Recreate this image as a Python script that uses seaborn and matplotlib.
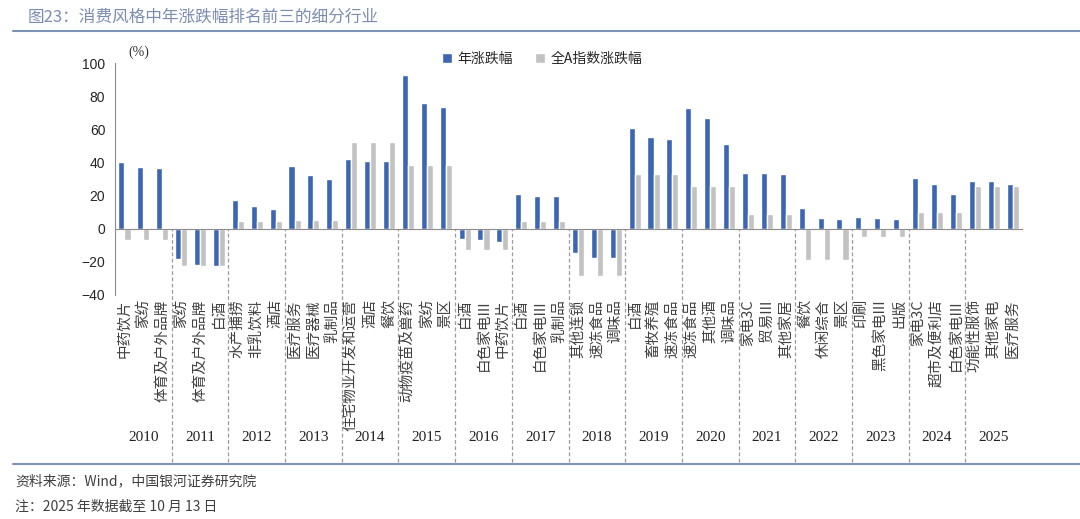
import numpy as np
import pandas as pd
import matplotlib.pyplot as plt
import seaborn as sns
from matplotlib.lines import Line2D

# data
years = ['2010', '2011', '2012', '2013', '2014', '2015', '2016', '2017',
         '2018', '2019', '2020', '2021', '2022', '2023', '2024', '2025']

industries = [
    '中药饮片', '家纺', '体育及户外品牌',
    '家纺', '体育及户外品牌', '白酒',
    '水产捕捞', '非乳饮料', '酒店',
    '医疗服务', '医疗器械', '乳制品',
    '住宅物业开发和运营', '酒店', '餐饮',
    '动物疫苗及兽药', '家纺', '景区',
    '白酒', '白色家电III', '中药饮片',
    '白酒', '白色家电III', '乳制品',
    '其他连锁', '速冻食品', '调味品',
    '白酒', '畜牧养殖', '速冻食品',
    '速冻食品', '其他酒', '调味品',
    '家电3C', '贸易III', '其他家居',
    '餐饮', '休闲综合', '景区',
    '印刷', '黑色家电III', '出版',
    '家电3C', '超市及便利店', '白色家电III',
    '功能性服饰', '其他家电', '医疗服务',
]

year_chg = [
    40.1, 37.3, 36.9,
    -18.3, -21.7, -22.6,
    17.5, 13.7, 11.7,
    38.0, 32.6, 30.0,
    42.3, 41.1, 40.7,
    92.8, 75.9, 73.5,
    -6.0, -6.8, -8.1,
    21.1, 19.9, 19.7,
    -14.5, -17.5, -17.5,
    60.8, 55.6, 54.4,
    72.7, 67.1, 51.2,
    33.6, 33.4, 33.0,
    12.7, 6.6, 5.6,
    7.3, 6.4, 6.0,
    30.8, 26.8, 21.1,
    28.8, 28.6, 27.2,
]

# 全A指数 change for each year (same for the three industries of that year)
alla_chg = [-7.0, -22.6, 4.4, 5.2, 52.4, 38.3, -12.9, 4.8,
            -28.4, 32.8, 25.6, 9.1, -18.9, -5.2, 9.9, 25.6]

series_names = ['年涨跌幅', '全A指数涨跌幅']

blue = '#3c66b3'
gray = '#c2c2c2'
axis_gray = '#8c8c8c'

n = len(industries)
rows = []
for i in range(n):
    rows.append({'idx': i, 'series': series_names[0], 'value': year_chg[i]})
    rows.append({'idx': i, 'series': series_names[1], 'value': alla_chg[i // 3]})
df = pd.DataFrame(rows)

sns.set_style('white')
plt.rcParams['font.family'] = ['Noto Sans CJK SC', 'DejaVu Sans']

fig = plt.figure(figsize=(10.8, 5.19), dpi=100)
ax = fig.add_axes([0.1065, 0.4316, 0.8398, 0.4470])

sns.barplot(data=df, x='idx', y='value', hue='series', hue_order=series_names,
            palette=[blue, gray], width=0.64, saturation=1, ax=ax)

ax.set_xlim(-0.5, n - 0.5)
ax.set_ylim(-40, 100)
ax.set_xlabel('')
ax.set_ylabel('')

for s in ['top', 'right']:
    ax.spines[s].set_visible(False)
ax.spines['left'].set_color(axis_gray)
ax.spines['bottom'].set_color(axis_gray)
ax.spines['bottom'].set_position(('data', 0))

# small ticks on the zero line at category boundaries
ax.set_xticks(np.arange(-0.5, n, 1))
ax.set_xticklabels([])
ax.tick_params(axis='x', length=4, direction='out', color=axis_gray, width=1)

ax.set_yticks(range(-40, 101, 20))
ax.tick_params(axis='y', length=4, direction='out', color=axis_gray, labelsize=10, pad=3)
for lab in ax.get_yticklabels():
    lab.set_fontfamily('Liberation Sans')

# category labels below the plot area
sec = ax.secondary_xaxis(0)
sec.set_xticks(range(n), industries)
sec.tick_params(length=0, pad=3, labelsize=10.5, labelrotation=90, labelcolor='#404040')
sec.spines['bottom'].set_visible(False)

# dashed year separators and year labels
for k in range(1, len(years)):
    ax.vlines(3 * k - 0.5, -141, 0, colors='#9a9a9a', linestyles=(0, (3, 2)),
              linewidth=0.9, clip_on=False)
for k, y in enumerate(years):
    ax.text(3 * k + 1, -126, y, ha='center', va='center', fontsize=11,
            family='Liberation Serif', color='#222222', clip_on=False)

fig.text(0.1185, 0.90, '(%)', fontsize=10, family='Liberation Serif',
         ha='left', va='center', color='#333333')

handles, labels = ax.get_legend_handles_labels()
ax.legend(handles, labels, loc='center', bbox_to_anchor=(0.502, 0.886),
          bbox_transform=fig.transFigure, ncol=2, frameon=False, fontsize=10,
          handlelength=0.7, handleheight=0.7, handletextpad=0.4, columnspacing=1.6)

# title and footer
fig.text(0.026, 0.967, '图23：消费风格中年涨跌幅排名前三的细分行业', fontsize=12,
         color='#7b8db0', ha='left', va='center')
fig.add_artist(Line2D([0.012, 1.0], [0.940, 0.940], color='#7f93b8', lw=1.5))
fig.add_artist(Line2D([0.012, 1.0], [0.106, 0.106], color='#7f93b8', lw=1.5))
fig.text(0.014, 0.073, '资料来源：Wind，中国银河证券研究院', fontsize=10,
         style='italic', color='#404040', ha='left', va='center')
fig.text(0.014, 0.023, '注：2025 年数据截至 10 月 13 日', fontsize=10,
         style='italic', color='#404040', ha='left', va='center')

fig.savefig('out.png', dpi=100)
